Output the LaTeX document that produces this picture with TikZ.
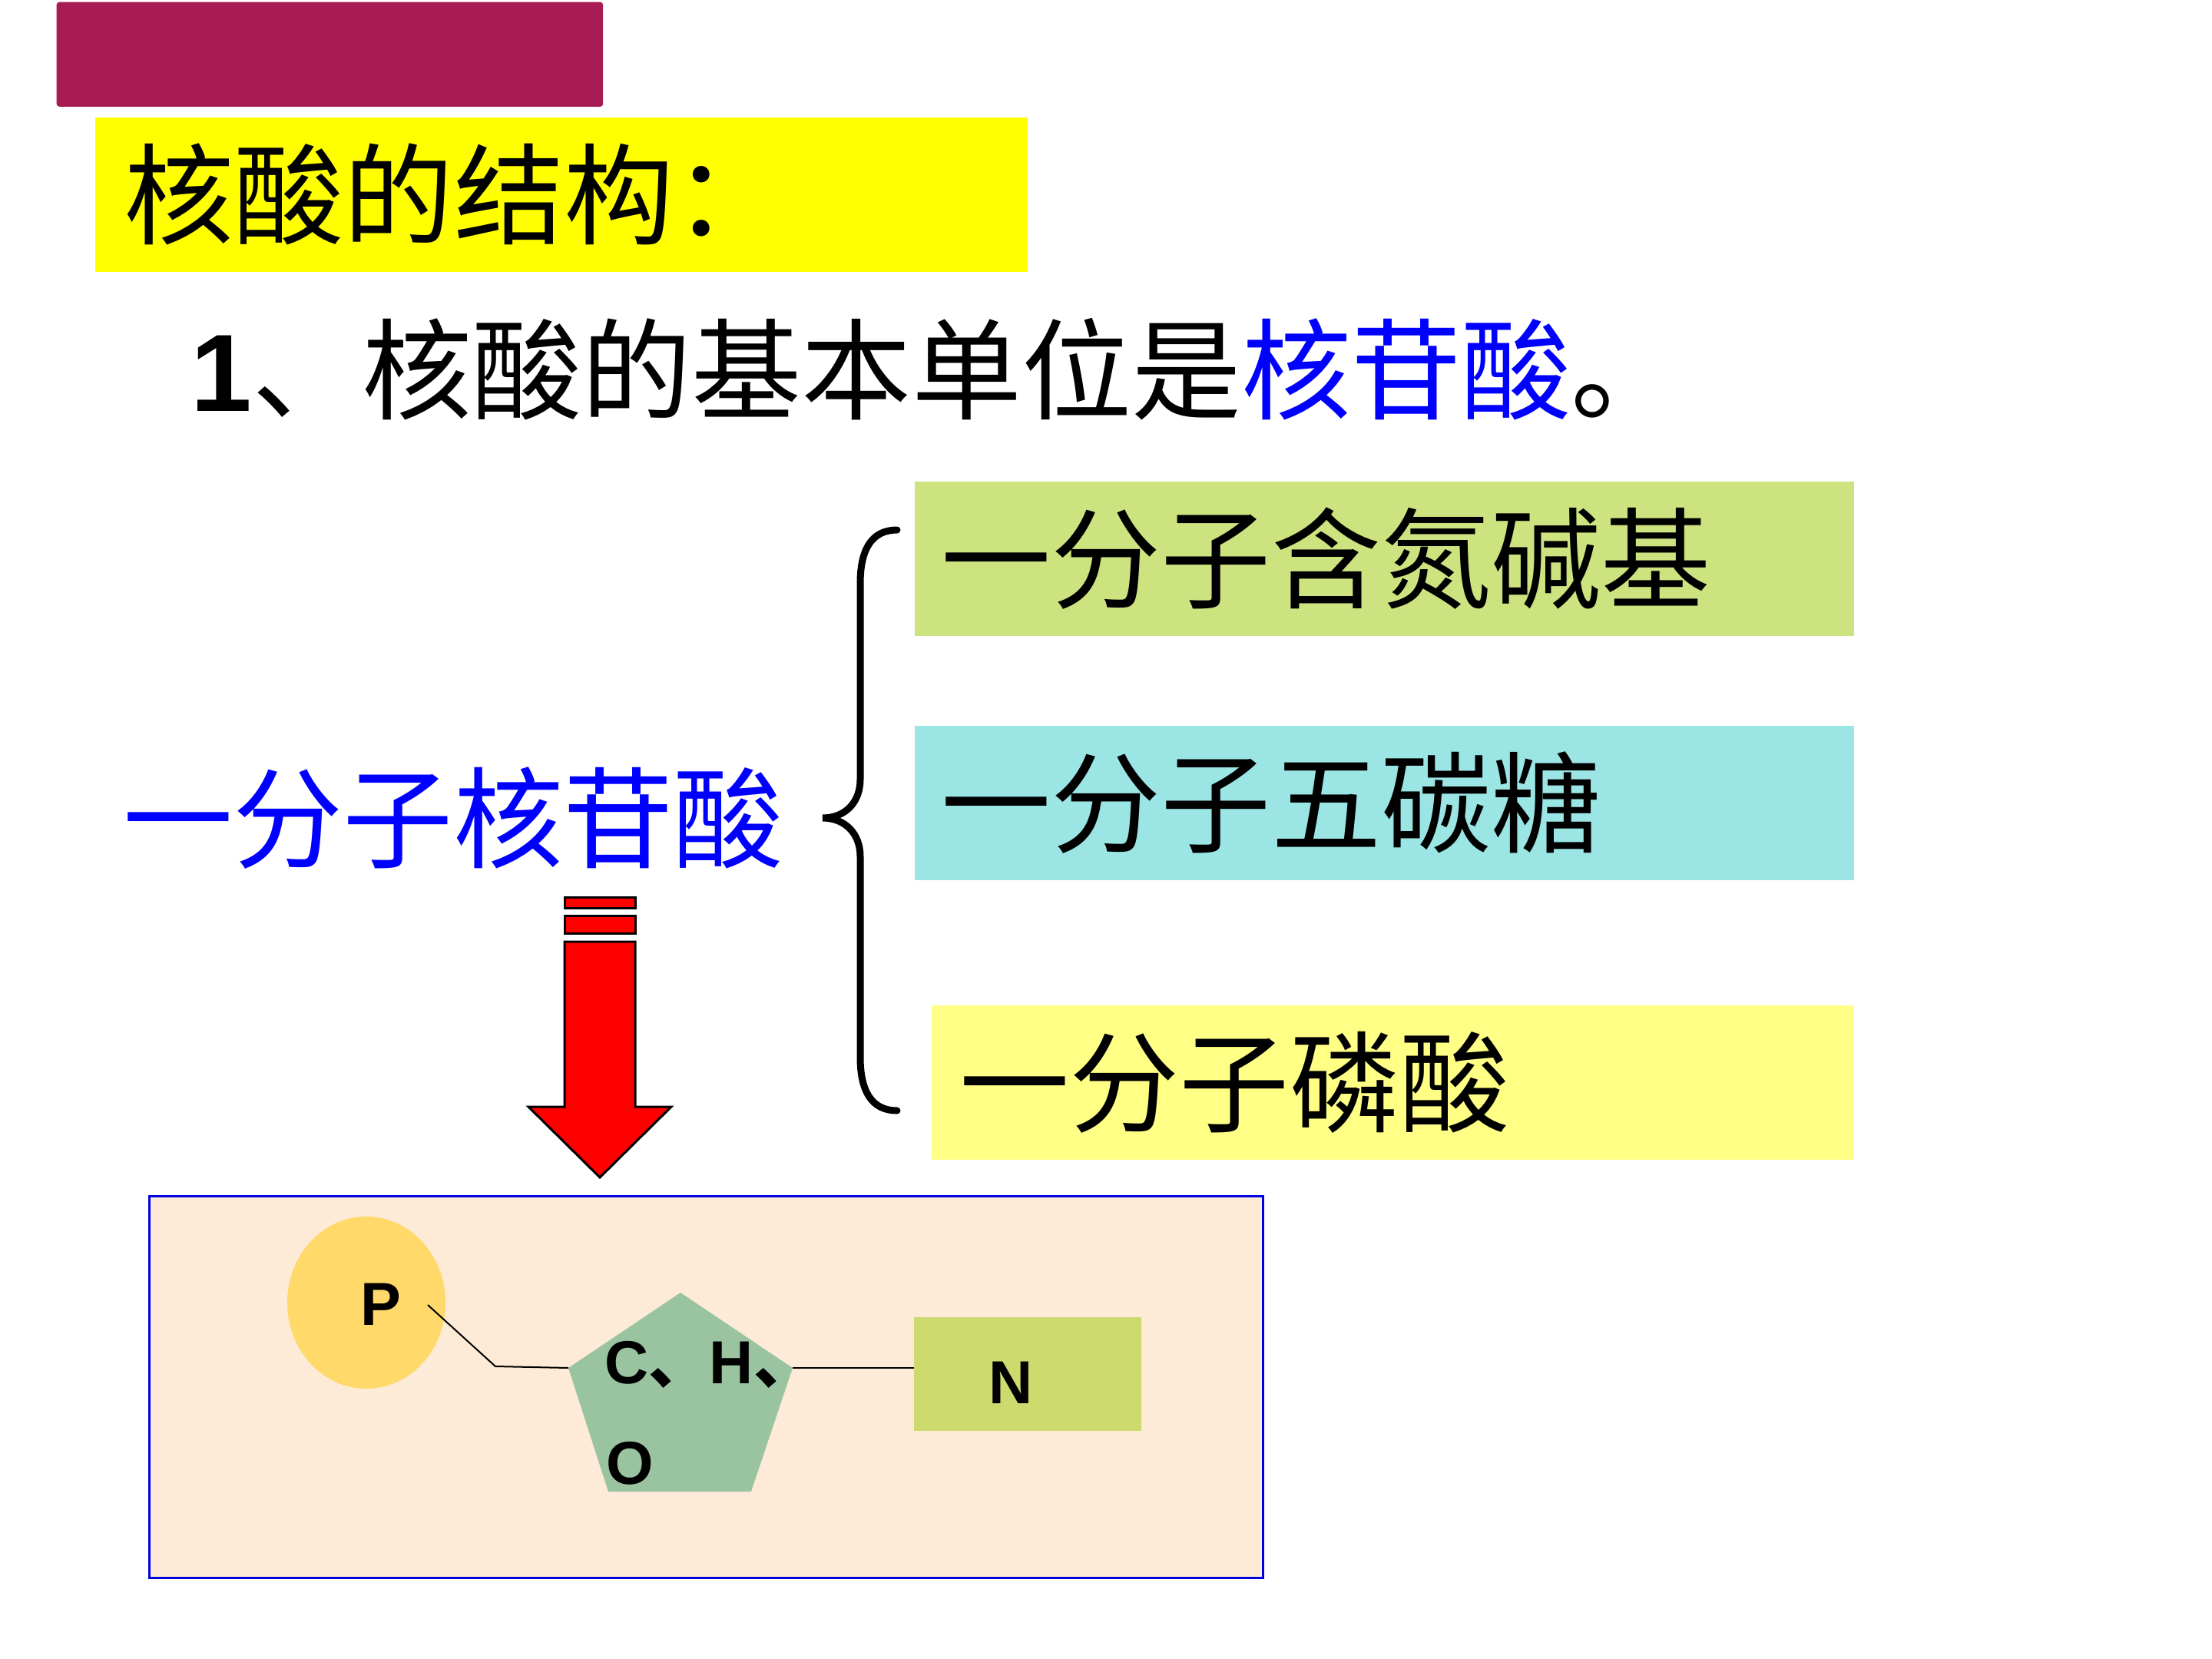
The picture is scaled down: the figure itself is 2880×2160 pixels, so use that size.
\documentclass[tikz,border=0pt]{standalone}
\usepackage{fontspec}
\setmainfont{Noto Sans CJK SC}
\newfontfamily\cjkfont{Noto Sans CJK SC}
\newfontfamily\latinbold{Liberation Sans}
\usetikzlibrary{shapes.geometric}

\definecolor{bannerred}{HTML}{A81C54}
\definecolor{titleyellow}{HTML}{FFFF00}
\definecolor{basegreen}{HTML}{CDE380}
\definecolor{sugarcyan}{HTML}{9BE5E5}
\definecolor{acidyellow}{HTML}{FFFF85}
\definecolor{nucblue}{HTML}{0000FF}
\definecolor{modelpeach}{HTML}{FEEBD7}
\definecolor{modelblue}{HTML}{0000E0}
\definecolor{phosyellow}{HTML}{FFD96A}
\definecolor{sugargreen}{HTML}{9AC49F}
\definecolor{nitrogreen}{HTML}{CCDA6E}

\tikzstyle{every node}=[inner sep=0pt]
\tikzstyle{big}=[font={\fontsize{40.7pt}{48pt}\selectfont}]
\tikzstyle{part}=[big, anchor=north west, minimum height=2.01cm, align=left, inner xsep=0.35cm]
\tikzstyle{chem}=[font={\fontsize{22.5pt}{26pt}\latinbold\bfseries}]
\tikzstyle{arrowpart}=[draw=black, fill=red, line width=0.03cm]

\begin{document}
\begin{tikzpicture}[x=0.01cm, y=-0.01cm]
    \useasboundingbox[fill=white] (0,0) rectangle (2880,2160);
    \node [fill=bannerred, rounded corners=1pt, anchor=north west, minimum width=7.11cm, minimum height=1.36cm] (banner) at (73,2) {};
    \node [part, fill=titleyellow, minimum width=12.14cm, text width=11.38cm, inner xsep=0.38cm] (title) at (123,152) {核酸的结构：};
    \node [big, anchor=west] (unit) at (248,481) {{\latinbold\bfseries 1}、核酸的基本单位是\textcolor{nucblue}{核苷酸}。};

    \node [part, fill=basegreen, minimum width=12.23cm, text width=11.53cm] (base) at (1190,626) {一分子含氮碱基};
    \node [part, fill=sugarcyan, minimum width=12.23cm, text width=11.53cm] (sugar) at (1190,944) {一分子五碳糖};
    \node [part, fill=acidyellow, minimum width=12.01cm, text width=11.27cm, inner xsep=0.37cm] (acid) at (1212,1308) {一分子磷酸};
    \node [big, anchor=west, text=nucblue] (nucleotide) at (160,1065) {一分子核苷酸};

    \draw [line width=0.09cm, line cap=round] (1168,690) .. controls (1135,690) and (1120,715) .. (1120,760) -- (1120,1015)
        .. controls (1120,1045) and (1100,1065) .. (1071,1065) .. controls (1100,1065) and (1120,1085) .. (1120,1115)
        -- (1120,1376) .. controls (1120,1421) and (1135,1446) .. (1168,1446);

    \filldraw [arrowpart] (735,1168) rectangle (827,1182);
    \filldraw [arrowpart] (735,1192) rectangle (827,1215);
    \filldraw [arrowpart] (735,1226) -- (827,1226) -- (827,1441) -- (874,1441) -- (781,1533) -- (688,1441) -- (735,1441) -- cycle;

    \node [fill=modelpeach, draw=modelblue, line width=0.03cm, anchor=north west, minimum width=14.49cm, minimum height=4.97cm] (model) at (193,1556) {};
    \node [ellipse, fill=phosyellow, minimum width=2.06cm, minimum height=2.24cm] (phos) at (477,1696) {};
    \node [chem] (plabel) at (496,1698) {P};
    \coordinate (top) at (886,1683);
    \coordinate (ul) at (740,1781);
    \coordinate (ur) at (1032,1781);
    \coordinate (ll) at (792,1942);
    \coordinate (lr) at (978,1942);
    \fill [sugargreen] (top) -- (ur) -- (lr) -- (ll) -- (ul) -- cycle;
    \node [chem, anchor=base west] (chlabel) at (787,1801) {C{\cjkfont 、}H{\cjkfont 、}};
    \node [chem, anchor=base west] (olabel) at (789,1932) {O};
    \node [fill=nitrogreen, minimum width=2.95cm, minimum height=1.47cm] (nbox) at (1338,1789) {};
    \node [chem] (nlabel) at (1316,1800) {N};
    \coordinate (pend) at (557,1699);
    \coordinate (kink) at (645,1779);
    \draw [line width=0.02cm] (pend) -- (kink) -- (ul);
    \draw [line width=0.025cm] (ur) -- (ur -| nbox.west);
\end{tikzpicture}
\end{document}
